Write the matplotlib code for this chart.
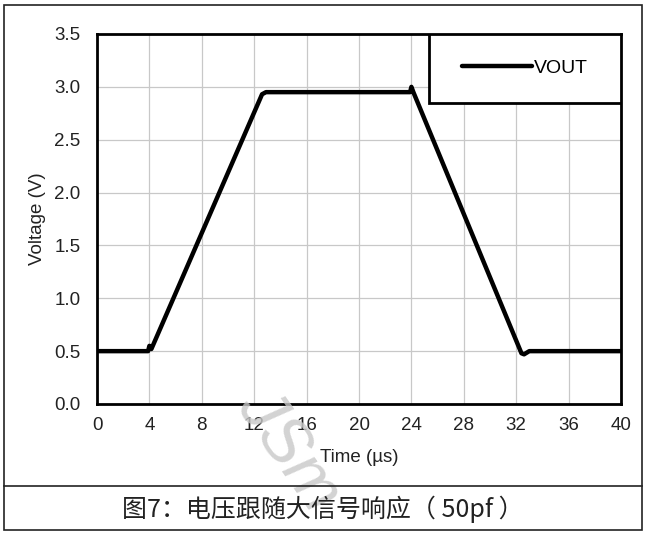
import matplotlib.pyplot as plt
from matplotlib.patches import Rectangle
from matplotlib.lines import Line2D

# waveform of VOUT (time in us, voltage in V)
time_us = [0, 3.9, 4.0, 4.15, 12.6, 12.9, 23.9, 24.0, 24.15, 32.4, 32.6, 33.0, 40]
vout = [0.50, 0.50, 0.55, 0.52, 2.93, 2.95, 2.95, 3.00, 2.95, 0.48, 0.47, 0.50, 0.50]

x_ticks = [0, 4, 8, 12, 16, 20, 24, 28, 32, 36, 40]
y_ticks = [0.0, 0.5, 1.0, 1.5, 2.0, 2.5, 3.0, 3.5]
caption = "图7：电压跟随大信号响应（ 50pf ）"

plt.rcParams['font.family'] = ['Liberation Sans', 'DejaVu Sans']

fig = plt.figure(figsize=(6.46, 5.34), dpi=100)
W, H = 646, 534

# outer frame + caption separator
fig.add_artist(Rectangle((4 / W, 4 / H), 638 / W, 525 / H, transform=fig.transFigure,
                         fill=False, edgecolor='#222222', linewidth=1.2))
fig.add_artist(Line2D([4 / W, 642 / W], [1 - 486 / H, 1 - 486 / H],
                      transform=fig.transFigure, color='#222222', linewidth=1.2))

# faint watermark
fig.text(288 / W, 1 - 452 / H, "JSm", fontsize=48, color='#c8c8c8', alpha=0.8,
         rotation=-55, fontstyle='italic', ha='center', va='center', zorder=0)

ax = fig.add_axes([97 / W, 1 - 404 / H, 524 / W, 370 / H])
ax.patch.set_alpha(0)
ax.plot(time_us, vout, color='black', linewidth=3.2, solid_joinstyle='round',
        solid_capstyle='round', label='VOUT')

ax.set_xlim(0, 40)
ax.set_ylim(0, 3.5)
ax.set_xticks(x_ticks)
ax.set_yticks(y_ticks)
ax.set_yticklabels([f"{v:.1f}" for v in y_ticks])
ax.tick_params(length=0, labelsize=13.5, colors='#222222')
ax.tick_params(axis='y', pad=12)
ax.tick_params(axis='x', pad=9)
ax.grid(True, color='#c8c8c8', linewidth=0.9)
ax.set_axisbelow(True)
for s in ax.spines.values():
    s.set_linewidth(2)
    s.set_color('black')

ax.set_xlabel("Time (µs)", fontsize=13.5, labelpad=11, color='#222222')
ax.set_ylabel("Voltage (V)", fontsize=13.5, labelpad=6, color='#222222')

# legend box in the top right corner
bx0 = (429 - 97) / 524
by0 = (404 - 103) / 370
ax.add_patch(Rectangle((bx0, by0), 1 - bx0, 1 - by0, transform=ax.transAxes,
                       facecolor='white', edgecolor='black', linewidth=2, zorder=5))
leg = ax.legend(loc='center', bbox_to_anchor=(bx0, by0, 1 - bx0, 1 - by0),
                frameon=False, fontsize=14, handlelength=3.6, handletextpad=0.1)
leg.set_zorder(6)

fig.text(0.5, 1 - 509 / H, caption, fontsize=18, ha='center', va='center',
         color='#222222', family=['Noto Sans CJK SC', 'DejaVu Sans'])

fig.savefig("out.png", dpi=100)
